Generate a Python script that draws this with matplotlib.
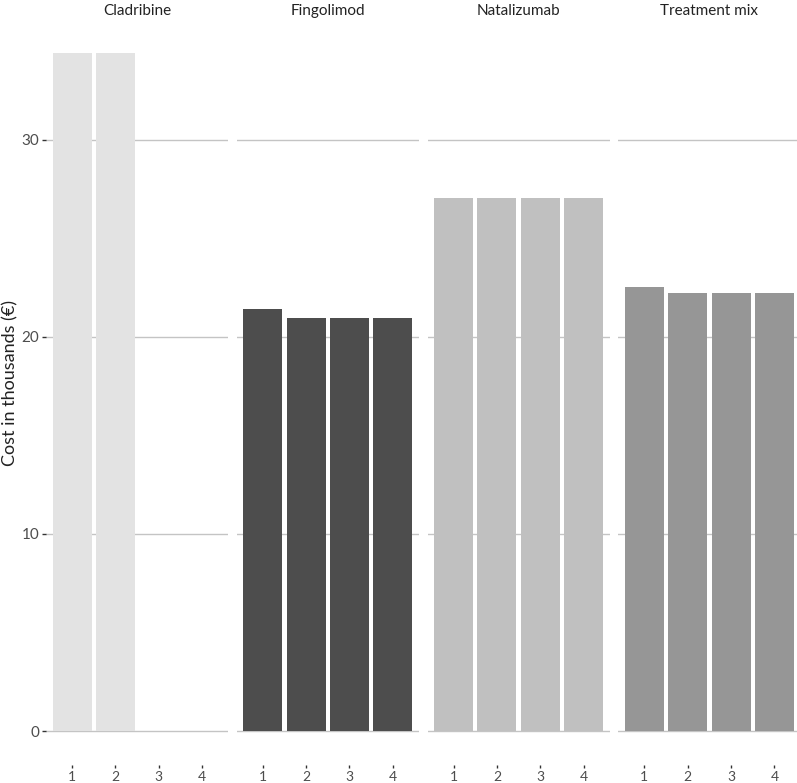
import matplotlib.pyplot as plt
import numpy as np

# datos
tratamientos = ["Cladribine", "Fingolimod", "Natalizumab", "Treatment mix"]
anios = [1, 2, 3, 4]
costo_cladribine = [34.4, 34.4, 0, 0]
costo_fingolimod = [21.4, 20.95, 20.95, 20.95]
costo_natalizumab = [27.05, 27.05, 27.05, 27.05]
costo_mix = [22.55, 22.2, 22.2, 22.2]
colores = ["#e3e3e3", "#4d4d4d", "#c0c0c0", "#969696"]

valores = [costo_cladribine, costo_fingolimod, costo_natalizumab, costo_mix]

fig = plt.figure(figsize=(7.97, 7.83), dpi=100)
plt.rcParams['font.family'] = ['Lato', 'DejaVu Sans']

ancho_px = 182
sep_px = 8.8
izq_px = 46
for i, (nombre, vals, col) in enumerate(zip(tratamientos, valores, colores)):
    x0 = (izq_px + i * (ancho_px + sep_px)) / 797
    ax = fig.add_axes([x0, 1 - 765 / 783, ancho_px / 797, 746 / 783])
    ax.bar(anios, vals, width=0.9, color=col, zorder=2)
    ax.set_xlim(0.4, 4.6)
    ax.set_ylim(-1.72, 36.12)
    for y in [0, 10, 20, 30]:
        ax.axhline(y, color="#c4c4c4", lw=1.0, zorder=1)
    for s in ax.spines.values():
        s.set_visible(False)
    ax.set_xticks(anios)
    ax.set_xticklabels([str(a) for a in anios])
    ax.set_yticks([0, 10, 20, 30])
    ax.tick_params(axis='x', length=2.5, width=1, color="#333333", labelcolor="#4d4d4d",
                   labelsize=10, pad=1.5)
    if i == 0:
        ax.tick_params(axis='y', length=3, width=1, color="#333333", labelcolor="#4d4d4d",
                       labelsize=11, pad=2)
    else:
        ax.tick_params(axis='y', length=0, labelleft=False)
    # titulo de cada panel
    fig.text(x0 + ancho_px / 797 / 2, 1 - 11 / 783, nombre, ha='center', va='center',
             fontsize=11, color="#222222")

# etiqueta del eje y
fig.text(10 / 797, 1 - 383 / 783, "Cost in thousands (€)", rotation=90, ha='center',
         va='center', fontsize=13, color="#222222")

fig.savefig("out.png", dpi=100)
